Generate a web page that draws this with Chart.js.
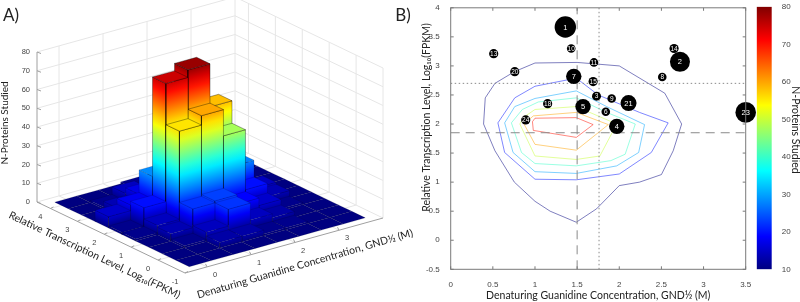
<!DOCTYPE html>
<html>
<head>
<meta charset="utf-8">
<script src="https://cdn.jsdelivr.net/npm/chart.js@4"></script>
<style>
  html, body { margin: 0; padding: 0; background: #fff; overflow: hidden; }
  canvas { position: absolute; top: 0; filter: blur(0.35px); }
  #panelA { left: 0; }
  #panelB { left: 400px; }
  #panelC { left: 750px; }
</style>
</head>
<body>
<canvas id="panelA" width="420" height="302"></canvas>
<canvas id="panelB" width="360" height="302"></canvas>
<canvas id="panelC" width="50" height="302"></canvas>
<script>
// histogram bins
var gndBins = [0, 0.5, 1, 1.5, 2, 2.5, 3, 3.5];
var fpkmBins = [-0.5, 0, 0.5, 1, 1.5, 2, 2.5, 3, 3.5, 4];
var countsFpkmM05 = [0, 0, 0, 0, 0, 0, 0, 0];
var countsFpkm0 = [0, 0, 3, 3, 1, 1, 0, 0];
var countsFpkm05 = [0, 1, 5, 14, 5, 3, 0, 0];
var countsFpkm1 = [0, 4, 14, 15, 10, 6, 1, 0];
var countsFpkm15 = [1, 5, 52, 57, 43, 11, 4, 0];
var countsFpkm2 = [1, 11, 74, 78, 55, 20, 5, 0];
var countsFpkm25 = [6, 9, 21, 33, 14, 10, 2, 0];
var countsFpkm3 = [0, 4, 8, 11, 10, 5, 1, 0];
var countsFpkm35 = [0, 1, 5, 3, 2, 1, 0, 0];
var countsFpkm4 = [0, 0, 0, 1, 1, 0, 0, 0];
var counts = [countsFpkmM05, countsFpkm0, countsFpkm05, countsFpkm1, countsFpkm15, countsFpkm2, countsFpkm25, countsFpkm3, countsFpkm35, countsFpkm4];

var gndTicks = [0, 1, 2, 3];
var fpkmTicks = [-1, 0, 1, 2, 3, 4];
var zTicks = [0, 10, 20, 30, 40, 50, 60, 70, 80];

// numbered proteins of panel B
var proteinIds = [1, 2, 3, 4, 5, 6, 7, 8, 9, 10, 11, 13, 14, 15, 18, 20, 21, 23, 24];
var proteinGnd = [1.36, 2.72, 1.73, 1.97, 1.57, 1.84, 1.46, 2.51, 1.91, 1.43, 1.70, 0.51, 2.65, 1.69, 1.15, 0.76, 2.11, 3.50, 0.89];
var proteinFpkm = [3.67, 3.07, 2.48, 1.96, 2.30, 2.21, 2.82, 2.81, 2.44, 3.30, 3.06, 3.21, 3.30, 2.73, 2.35, 2.90, 2.36, 2.20, 2.07];
var proteinSize = [10.7, 10, 4.5, 7.7, 7.7, 4.3, 7.7, 4.3, 4.3, 4.3, 4.3, 4.6, 4.6, 4.6, 4.6, 4.6, 8, 10.3, 4.6];

// contour lines, [gnd, fpkm]
var contour10 = [[1, 3.05], [1.5, 3.06], [2, 3], [2.54, 2.53], [2.74, 2], [2.64, 1.54], [2.5, 1.13], [2.24, 1], [2, 0.94], [1.73, 0.54], [1.49, 0.31], [1.18, 0.5], [1, 0.67], [0.755, 1], [0.525, 1.54], [0.39, 2], [0.41, 2.45], [0.525, 2.7], [0.755, 2.9], [1, 3.05]];
var contour20 = [[0.56, 2.02], [0.76, 2.45], [1, 2.65], [1.49, 2.79], [1.75, 2.5], [2.24, 2.2], [2.58, 2.02], [2.38, 1.51], [2, 1.14], [1.49, 1.04], [1, 1.05], [0.64, 1.51], [0.56, 2.02]];
var contour30 = [[0.64, 2.02], [0.76, 2.3], [1, 2.44], [1.49, 2.57], [1.85, 2.3], [2.3, 1.99], [2.23, 1.51], [1.97, 1.28], [1.49, 1.15], [1, 1.18], [0.74, 1.51], [0.64, 2.02]];
var contour40 = [[0.72, 2.02], [0.85, 2.25], [1.04, 2.38], [1.49, 2.45], [1.85, 2.2], [2.19, 2], [2.07, 1.48], [1.9, 1.37], [1.49, 1.28], [1, 1.32], [0.84, 1.51], [0.72, 2.02]];
var contour50 = [[0.82, 2], [0.87, 2.12], [1, 2.25], [1.49, 2.3], [1.97, 2], [1.77, 1.45], [1.49, 1.39], [1, 1.45], [0.82, 2]];
var contour60 = [[0.87, 2], [0.98, 2.14], [1.49, 2.2], [1.87, 1.99], [1.49, 1.55], [1, 1.65], [0.87, 2]];
var contour70 = [[0.97, 2.04], [1, 2.1], [1.49, 2.11], [1.69, 1.99], [1.49, 1.77], [0.98, 1.89], [0.97, 2.04]];
var contours = [contour10, contour20, contour30, contour40, contour50, contour60, contour70];
var contourLevels = [10, 20, 30, 40, 50, 60, 70];

var gndMean = 1.76, gndMedian = 1.5, fpkmMean = 2.7, fpkmMedian = 1.85;

var labelFont = 'Lato, "Noto Sans", sans-serif';
var tickFont = '"Liberation Sans", sans-serif';
var transcriptionTitle = 'Relative Transcription Level, Log\u2081\u2080(FPKM)';
var guanidineTitle = 'Denaturing Guanidine Concentration, GND\u00BD (M)';
var proteinsTitle = 'N-Proteins Studied';

function jet(t, a) {
  function c(v) { return Math.round(255 * Math.max(0, Math.min(1, v))); }
  var r = c(Math.min(4 * t - 1.5, -4 * t + 4.5));
  var g = c(Math.min(4 * t - 0.5, -4 * t + 3.5));
  var b = c(Math.min(4 * t + 0.5, -4 * t + 2.5));
  return 'rgba(' + r + ',' + g + ',' + b + ',' + (a === undefined ? 1 : a) + ')';
}

function putText(ctx, text, x, y, font, color, align, angle) {
  ctx.save();
  ctx.translate(x, y);
  ctx.rotate((angle || 0) * Math.PI / 180);
  ctx.font = font;
  ctx.fillStyle = color;
  ctx.textAlign = align || 'center';
  ctx.textBaseline = 'middle';
  ctx.fillText(text, 0, 0);
  ctx.restore();
}

// ---------- Panel A: orthographic view of the histogram ----------
var gMin = -0.5, gMax = 4, fMin = -1, fMax = 4.5, zMax = 80;

function project(g, f, z) {
  var a = (g - gMin) / (gMax - gMin), b = (f - fMin) / (fMax - fMin);
  return { x: 185 + 198 * a - 148 * b, y: 273 - 55 * a - 71 * b - 150 * z / zMax };
}

function segment(p, q, color, width) {
  return { data: [p, q], showLine: true, pointRadius: 0, borderColor: color, borderWidth: width, fill: false, clip: false };
}

// gradient follows z along the slanted face
function faceGradient(chart, g1, f1, g2, f2, z) {
  var sx = chart.scales.x, sy = chart.scales.y;
  function px(p) { return { x: sx.getPixelForValue(p.x), y: sy.getPixelForValue(p.y) }; }
  var p0 = px(project(g1, f1, 0)), p1 = px(project(g2, f2, 0)), top = px(project(g1, f1, z));
  // the scales have no size yet on the first option pass
  if (!isFinite(p0.x + p0.y + p1.x + p1.y + top.y)) return jet(z / zMax);
  var dx = p1.x - p0.x, dy = p1.y - p0.y, len = Math.sqrt(dx * dx + dy * dy);
  var nx = -dy / len, ny = dx / len;
  var l = (top.x - p0.x) * nx + (top.y - p0.y) * ny;
  var grad = chart.ctx.createLinearGradient(p0.x, p0.y, p0.x + nx * l, p0.y + ny * l);
  var steps = Math.max(2, Math.ceil(z / 5));
  for (var s = 0; s <= steps; s++) grad.addColorStop(s / steps, jet((z * s / steps) / zMax));
  return grad;
}

function edgeColor(z) { return z < 25 ? 'rgba(0,0,30,0.22)' : 'rgba(0,0,0,0.5)'; }

function sideFace(g1, f1, g2, f2, z) {
  return {
    data: [project(g1, f1, 0), project(g2, f2, 0), project(g2, f2, z), project(g1, f1, z), project(g1, f1, 0)],
    showLine: true, pointRadius: 0, borderColor: edgeColor(z), borderWidth: 0.7, clip: false, fill: 'shape',
    backgroundColor: function (c) { return faceGradient(c.chart, g1, f1, g2, f2, z); }
  };
}

function topFace(g1, f1, g2, f2, z) {
  return {
    data: [project(g1, f1, z), project(g2, f1, z), project(g2, f2, z), project(g1, f2, z), project(g1, f1, z)],
    showLine: true, pointRadius: 0, borderColor: edgeColor(z), borderWidth: 0.7, clip: false, fill: 'shape',
    backgroundColor: jet(z / zMax)
  };
}

var gridColor = '#e6e6e6', axisColor = '#a0a0a0';
var panelASets = [];
zTicks.forEach(function (z) {
  panelASets.push(segment(project(gMin, fMax, z), project(gMax, fMax, z), gridColor, 1));
  panelASets.push(segment(project(gMax, fMax, z), project(gMax, fMin, z), gridColor, 1));
});
gndTicks.forEach(function (g) {
  panelASets.push(segment(project(g, fMax, 0), project(g, fMax, zMax), gridColor, 1));
  panelASets.push(segment(project(g, fMax, 0), project(g, fMin, 0), gridColor, 1));
});
fpkmTicks.slice(1).forEach(function (f) {
  panelASets.push(segment(project(gMax, f, 0), project(gMax, f, zMax), gridColor, 1));
  panelASets.push(segment(project(gMin, f, 0), project(gMax, f, 0), gridColor, 1));
});
panelASets.push(segment(project(gMax, fMax, 0), project(gMax, fMax, zMax), gridColor, 1));
panelASets.push(segment(project(gMax, fMin, 0), project(gMax, fMin, zMax), gridColor, 1));
panelASets.push(segment(project(gMin, fMax, 0), project(gMin, fMax, zMax), axisColor, 1));
panelASets.push(segment(project(gMin, fMax, 0), project(gMin, fMin, 0), axisColor, 1));
panelASets.push(segment(project(gMin, fMin, 0), project(gMax, fMin, 0), axisColor, 1));
zTicks.forEach(function (z) {
  var p = project(gMin, fMax, z);
  panelASets.push(segment(p, { x: p.x + 4, y: p.y + 1.5 }, axisColor, 1));
});
gndTicks.forEach(function (g) {
  var p = project(g, fMin, 0);
  panelASets.push(segment(p, { x: p.x - 1.5, y: p.y - 3 }, axisColor, 1));
});
fpkmTicks.forEach(function (f) {
  var p = project(gMin, f, 0);
  panelASets.push(segment(p, { x: p.x + 3, y: p.y - 1.5 }, axisColor, 1));
});

// back to front so near bars cover far ones
var halfBin = 0.25;
for (var i = gndBins.length - 1; i >= 0; i--) {
  for (var j = fpkmBins.length - 1; j >= 0; j--) {
    var g0 = gndBins[i] - halfBin, g1 = gndBins[i] + halfBin;
    var f0 = fpkmBins[j] - halfBin, f1 = fpkmBins[j] + halfBin;
    var z = counts[j][i];
    if (z > 0) {
      panelASets.push(sideFace(g0, f0, g0, f1, z));
      panelASets.push(sideFace(g0, f0, g1, f0, z));
    }
    panelASets.push(topFace(g0, f0, g1, f1, z));
  }
}
panelASets.reverse();

var panelALabels = {
  id: 'panelALabels',
  afterDatasetsDraw: function (chart) {
    var ctx = chart.ctx, sx = chart.scales.x, sy = chart.scales.y;
    function tickText(text, p, dx, dy, align) {
      putText(ctx, text, sx.getPixelForValue(p.x) + dx, sy.getPixelForValue(p.y) + dy, '7.5px ' + tickFont, '#444', align);
    }
    zTicks.forEach(function (z) { tickText(String(z), project(gMin, fMax, z), -7, 0, 'right'); });
    gndTicks.forEach(function (g) { tickText(String(g), project(g, fMin, 0), 8, 8); });
    fpkmTicks.forEach(function (f) { tickText(String(f), project(gMin, f, 0), -10, 8.5); });
    putText(ctx, 'A)', 11, 16, '17px ' + labelFont, '#222');
    putText(ctx, 'B)', 403, 16, '17px ' + labelFont, '#222');
    putText(ctx, proteinsTitle, 5, 123, '10px ' + labelFont, '#222', 'center', -90);
    putText(ctx, transcriptionTitle, 94.5, 255, '10.5px ' + labelFont, '#222', 'center', 25.5);
    putText(ctx, guanidineTitle, 305, 264, '10.5px ' + labelFont, '#222', 'center', -16.2);
  }
};

new Chart(document.getElementById('panelA'), {
  type: 'scatter',
  data: { datasets: panelASets },
  options: {
    responsive: false, animation: false,
    layout: { padding: 0, autoPadding: false },
    plugins: { legend: { display: false }, tooltip: { enabled: false } },
    scales: {
      x: { type: 'linear', min: 0, max: 420, display: false },
      y: { type: 'linear', min: 0, max: 302, reverse: true, display: false }
    }
  },
  plugins: [panelALabels]
});

// ---------- Panel B: contours and numbered proteins ----------
function pairs(list) { return list.map(function (p) { return { x: p[0], y: p[1] }; }); }

var panelBSets = [];
panelBSets.push({
  type: 'bubble',
  data: proteinIds.map(function (id, k) { return { x: proteinGnd[k], y: proteinFpkm[k], r: proteinSize[k] }; }),
  backgroundColor: '#000', borderWidth: 0, clip: false
});
[[gndMedian, -0.5, gndMedian, 4, [9, 6]], [0, fpkmMedian, 3.5, fpkmMedian, [9, 6]],
 [gndMean, -0.5, gndMean, 4, [1.5, 2.5]], [0, fpkmMean, 3.5, fpkmMean, [1.5, 2.5]]].forEach(function (l) {
  panelBSets.push({
    type: 'scatter', showLine: true, pointRadius: 0, fill: false,
    data: [{ x: l[0], y: l[1] }, { x: l[2], y: l[3] }],
    borderColor: '#8a8a8a', borderWidth: 1, borderDash: l[4]
  });
});
contours.forEach(function (c, k) {
  panelBSets.push({
    type: 'scatter', showLine: true, pointRadius: 0, fill: false,
    data: pairs(c),
    borderColor: jet((contourLevels[k] - 10) / 70, 0.5), borderWidth: 1
  });
});

var panelBExtras = {
  id: 'panelBExtras',
  afterDraw: function (chart) {
    var ctx = chart.ctx, a = chart.chartArea, sx = chart.scales.x, sy = chart.scales.y;
    ctx.save();
    ctx.strokeStyle = '#7a7a7a';
    ctx.lineWidth = 1;
    ctx.strokeRect(a.left, a.top, a.right - a.left, a.bottom - a.top);
    ctx.beginPath();
    sx.ticks.forEach(function (t) {
      var x = sx.getPixelForValue(t.value);
      ctx.moveTo(x, a.bottom); ctx.lineTo(x, a.bottom - 3);
      ctx.moveTo(x, a.top); ctx.lineTo(x, a.top + 3);
    });
    sy.ticks.forEach(function (t) {
      var y = sy.getPixelForValue(t.value);
      ctx.moveTo(a.left, y); ctx.lineTo(a.left + 3, y);
      ctx.moveTo(a.right, y); ctx.lineTo(a.right - 3, y);
    });
    ctx.stroke();
    ctx.restore();
    // protein numbers
    chart.getDatasetMeta(0).data.forEach(function (el, k) {
      putText(ctx, String(proteinIds[k]), el.x, el.y + 0.5, (proteinSize[k] > 6 ? '7.5px ' : '6.5px ') + tickFont, '#fff');
    });
    putText(ctx, transcriptionTitle, 27, 117.5, '10.5px ' + labelFont, '#222', 'center', -90);
  }
};

new Chart(document.getElementById('panelB'), {
  type: 'scatter',
  data: { datasets: panelBSets },
  options: {
    responsive: false, animation: false,
    layout: { padding: { top: 6, right: 14.3, left: 0, bottom: 0 }, autoPadding: false },
    plugins: { legend: { display: false }, tooltip: { enabled: false } },
    scales: {
      x: {
        type: 'linear', min: 0, max: 3.5,
        afterFit: function (s) { s.height = 32.7; },
        grid: { display: false }, border: { display: false },
        ticks: { stepSize: 0.5, autoSkip: false, maxRotation: 0, padding: 3, color: '#444', font: { family: tickFont, size: 8 }, callback: function (v) { return String(v); } },
        title: { display: true, text: guanidineTitle, color: '#222', padding: { top: 2, bottom: 0 }, font: { family: labelFont, size: 10.5 } }
      },
      y: {
        type: 'linear', min: -0.5, max: 4,
        afterFit: function (s) { s.width = 50.7; },
        grid: { display: false }, border: { display: false },
        ticks: { stepSize: 0.5, autoSkip: false, padding: 3, color: '#444', font: { family: tickFont, size: 8 }, callback: function (v) { return String(v); } }
      }
    }
  },
  plugins: [panelBExtras]
});

// ---------- Colorbar ----------
var colorbarRange = [10, 80];
new Chart(document.getElementById('panelC'), {
  type: 'bar',
  data: {
    labels: ['N'],
    datasets: [{
      data: [colorbarRange],
      barPercentage: 1, categoryPercentage: 1, borderWidth: 0,
      backgroundColor: function (c) {
        var y = c.chart.scales.y;
        var y0 = y.getPixelForValue(10), y1 = y.getPixelForValue(80);
        if (!isFinite(y0 + y1)) return jet(0.5);
        var grad = c.chart.ctx.createLinearGradient(0, y0, 0, y1);
        for (var s = 0; s <= 16; s++) grad.addColorStop(s / 16, jet(s / 16));
        return grad;
      }
    }]
  },
  options: {
    responsive: false, animation: false,
    layout: { padding: { top: 6, right: 0, left: 6.7, bottom: 32.7 }, autoPadding: false },
    plugins: { legend: { display: false }, tooltip: { enabled: false } },
    scales: {
      x: { display: false },
      y: {
        position: 'right', min: 10, max: 80,
        afterFit: function (s) { s.width = 28.3; },
        grid: { display: false }, border: { display: false },
        ticks: { stepSize: 10, padding: 2, color: '#444', font: { family: tickFont, size: 8 } }
      }
    }
  },
  plugins: [{
    id: 'colorbarTitle',
    afterDraw: function (chart) {
      putText(chart.ctx, proteinsTitle, 45, 130, '10.5px ' + labelFont, '#222', 'center', 90);
    }
  }]
});
</script>
</body>
</html>
